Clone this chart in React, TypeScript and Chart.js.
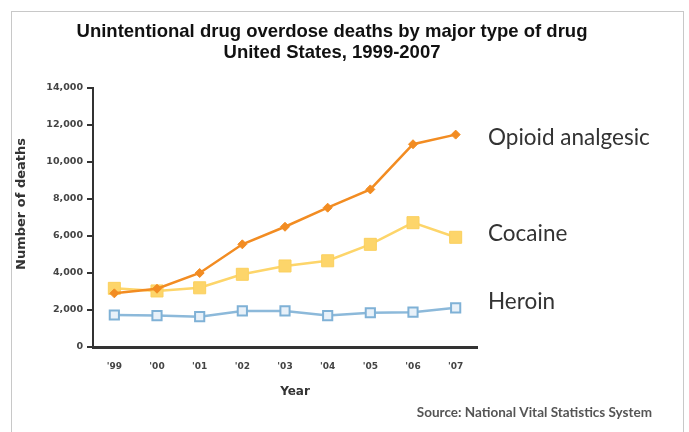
import React, { useEffect, useRef } from "react";
import { Chart, registerables } from "chart.js";

Chart.register(...registerables);

const years = ["'99", "'00", "'01", "'02", "'03", "'04", "'05", "'06", "'07"];
const opioid = [2900, 3150, 4000, 5550, 6500, 7530, 8520, 10960, 11480];
const cocaine = [3170, 3030, 3200, 3930, 4380, 4660, 5550, 6720, 5930];
const heroin = [1730, 1700, 1640, 1950, 1950, 1700, 1850, 1880, 2120];
const seriesNames = ["Opioid analgesic", "Cocaine", "Heroin"];
const titleLines = ["Unintentional drug overdose deaths by major type of drug", "United States, 1999-2007"];
const yTitle = "Number of deaths";
const xTitle = "Year";
const sourceText = "Source: National Vital Statistics System";

const textPlugin = {
  id: "textPlugin",
  afterDraw(chart: any) {
    const ctx = chart.ctx;
    ctx.save();
    // Title
    ctx.fillStyle = "#111";
    ctx.font = "bold 18.5px 'Liberation Sans', Arial, sans-serif";
    ctx.textAlign = "center";
    ctx.textBaseline = "middle";
    ctx.fillText(titleLines[0], 332, 32);
    ctx.fillText(titleLines[1], 332, 53);
    // Y title
    ctx.save();
    ctx.translate(22, 204);
    ctx.rotate(-Math.PI / 2);
    ctx.font = "bold 13px 'DejaVu Sans', sans-serif";
    ctx.fillStyle = "#333";
    ctx.fillText(yTitle, 0, 0);
    ctx.restore();
    // X title
    ctx.font = "bold 12px 'DejaVu Sans', sans-serif";
    ctx.fillStyle = "#333";
    ctx.fillText(xTitle, 295, 392);
    // Series labels beside the last point
    const ys = [0, 1, 2].map((i) => {
      const meta = chart.getDatasetMeta(i);
      return meta.data[meta.data.length - 1].y;
    });
    ctx.font = "22.5px Lato, 'Open Sans', sans-serif";
    ctx.fillStyle = "#333";
    ctx.textAlign = "left";
    ctx.fillText(seriesNames[0], 488, ys[0] + 3);
    ctx.fillText(seriesNames[1], 488, ys[1] - 4);
    ctx.fillText(seriesNames[2], 488, ys[2] - 6);
    // Source
    ctx.font = "bold 13.5px Lato, sans-serif";
    ctx.fillStyle = "#555";
    ctx.textAlign = "right";
    ctx.fillText(sourceText, 652, 413);
    ctx.restore();
  },
};

export default function App() {
  const ref = useRef<HTMLCanvasElement>(null);
  useEffect(() => {
    const chart = new Chart(ref.current!, {
      type: "line",
      data: {
        labels: years,
        datasets: [
          {
            label: seriesNames[0],
            data: opioid,
            borderColor: "#f28c22",
            backgroundColor: "#f28c22",
            borderWidth: 2.5,
            pointStyle: "rectRot",
            pointRadius: 4.5,
            pointBorderWidth: 1,
            pointBorderColor: "#f28c22",
            pointBackgroundColor: "#f28c22",
          },
          {
            label: seriesNames[1],
            data: cocaine,
            borderColor: "#fdd56a",
            backgroundColor: "#fdd56a",
            borderWidth: 2.5,
            pointStyle: "rect",
            pointRadius: 8.5,
            pointBorderWidth: 1,
            pointBorderColor: "#fbd05e",
            pointBackgroundColor: "#fdd56a",
          },
          {
            label: seriesNames[2],
            data: heroin,
            borderColor: "#8cb9da",
            backgroundColor: "#8cb9da",
            borderWidth: 2.5,
            pointStyle: "rect",
            pointRadius: 6.5,
            pointBorderWidth: 2,
            pointBorderColor: "#7fb1d6",
            pointBackgroundColor: "#e8f1f9",
          },
        ],
      },
      options: {
        animation: false,
        responsive: false,
        maintainAspectRatio: false,
        layout: { padding: { left: 0, top: 88, right: 212, bottom: 0 } },
        plugins: { legend: { display: false }, tooltip: { enabled: false } },
        scales: {
          x: {
            offset: true,
            grid: { display: false, drawTicks: false },
            border: { display: true, color: "#333", width: 3 },
            ticks: {
              padding: 14,
              color: "#444",
              font: { family: "'DejaVu Sans', sans-serif", size: 9, weight: "bold" },
            },
            afterFit(scale: any) {
              scale.height = 85;
            },
          },
          y: {
            min: 0,
            max: 14000,
            grid: { drawOnChartArea: false, drawTicks: true, tickLength: 6, color: "#333", lineWidth: 2 },
            border: { display: true, color: "#333", width: 2 },
            ticks: {
              stepSize: 2000,
              padding: 4,
              color: "#444",
              font: { family: "'DejaVu Sans', sans-serif", size: 9.5, weight: "bold" },
              callback: (v: any) => Number(v).toLocaleString("en-US"),
            },
            afterFit(scale: any) {
              scale.width = 93;
            },
          },
        },
      },
      plugins: [textPlugin],
    });
    return () => chart.destroy();
  }, []);
  return (
    <div style={{ position: "fixed", left: 0, top: 0, width: 689, height: 432, background: "#fff" }}>
      <div
        style={{
          position: "absolute",
          left: 11,
          top: 11,
          width: 671,
          height: 430,
          borderLeft: "1px solid #c8c8c8",
          borderTop: "1px solid #c8c8c8",
          borderRight: "1px solid #c8c8c8",
        }}
      />
      <canvas ref={ref} width={689} height={432} style={{ position: "absolute", left: 0, top: 0 }} />
    </div>
  );
}
